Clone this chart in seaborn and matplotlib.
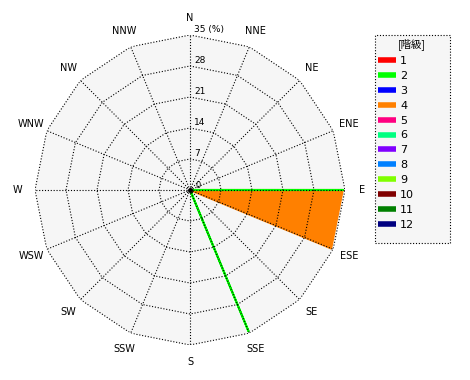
import numpy as np
import pandas as pd
import matplotlib
matplotlib.use("Agg")
import matplotlib.pyplot as plt
from matplotlib.lines import Line2D
from matplotlib.patches import Rectangle
import seaborn as sns

# ---- data ----
directions = ["N", "NNE", "NE", "ENE", "E", "ESE", "SE", "SSE",
              "S", "SSW", "SW", "WSW", "W", "WNW", "NW", "NNW"]
classes = ["1", "2", "3", "4", "5", "6", "7", "8", "9", "10", "11", "12"]
class_colors = ["#ff0000", "#00ff00", "#0000ff", "#ff8000", "#ff0080", "#00ff80",
                "#8000ff", "#0080ff", "#80ff00", "#800000", "#008000", "#000080"]
# frequency (%) per direction for each class (only classes 2 and 4 non-zero)
class2_values = [0, 0, 0, 0, 34.5, 0, 0, 34.5, 0, 0, 0, 0, 0, 0, 0, 0]
class4_values = [0, 0, 0, 0, 34.5, 34.5, 0, 0, 0, 0, 0, 0, 0, 0, 0, 0]
ring_ticks = [7, 14, 21, 28, 35]
ring_labels = ["7", "14", "21", "28", "35 (%)"]
legend_title = "[階級]"

series = {c: [0] * 16 for c in classes}
series["2"] = class2_values
series["4"] = class4_values

sns.set_theme(style="white")
plt.rcParams["font.family"] = ["DejaVu Sans", "Noto Sans CJK JP"]
plt.rcParams["text.color"] = "black"

W, H = 470, 380
fig = plt.figure(figsize=(W / 100, H / 100), dpi=100)
cx, cy, R = 190, 190, 155
ax = fig.add_axes([(cx - R) / W, (H - cy - R) / H, 2 * R / W, 2 * R / H], projection="polar")
ax.set_theta_zero_location("N")
ax.set_theta_direction(-1)
rmax = ring_ticks[-1]
ax.set_ylim(0, rmax)
ax.set_facecolor("none")
ax.spines["polar"].set_visible(False)
ax.grid(False)
ax.set_xticks([])
ax.set_yticks([])

theta = np.deg2rad(np.arange(16) * 22.5)
theta_closed = np.append(theta, theta[0])

# background polygon
ax.fill(theta_closed, [rmax] * 17, color="#f6f6f6", zorder=0, lw=0)

# series
rows = []
for c, col in zip(classes, class_colors):
    vals = np.array(series[c], dtype=float)
    if vals.max() > 0:
        ax.fill(theta_closed, np.append(vals, vals[0]), color=col, lw=0, zorder=1)
    for i, (t, v) in enumerate(zip(theta_closed, np.append(vals, vals[0]))):
        rows.append({"theta": t, "r": v, "cls": c, "order": i})
df = pd.DataFrame(rows)
nonzero = [c for c in classes if max(series[c]) > 0]
sub = df[df["cls"].isin(nonzero)]
sns.lineplot(data=sub, x="theta", y="r", hue="cls", hue_order=nonzero[::-1],
             units="cls", estimator=None, sort=False,
             palette=dict(zip(classes, class_colors)), ax=ax,
             legend=False, lw=1.5, zorder=2)
ax.set_xlabel("")
ax.set_ylabel("")
ax.set_ylim(0, rmax)

# grid: rings and spokes
dot = (0, (1, 1.6))
for r in ring_ticks:
    ax.plot(theta_closed, [r] * 17, color="black", lw=0.8, linestyle=dot, zorder=3)
for t in theta:
    ax.plot([t, t], [0, rmax], color="black", lw=0.8, linestyle=dot, zorder=3)
ax.plot([0], [0], marker="o", ms=2.5, color="black", zorder=4)

# direction labels
for t, d in zip(theta, directions):
    ax.text(t, rmax * 1.11, d, ha="center", va="center", fontsize=7, clip_on=False)

# ring labels
for r, lab in zip(ring_ticks, ring_labels):
    ax.annotate(lab, xy=(0, r), xytext=(3, 1), textcoords="offset points",
                ha="left", va="bottom", fontsize=6.5)
ax.annotate("0", xy=(0, 0), xytext=(4, 0), textcoords="offset points",
            ha="left", va="bottom", fontsize=6)

# legend box
box = Rectangle((375 / W, 1 - 243 / H), 75 / W, 208 / H, transform=fig.transFigure,
                facecolor="#f6f6f6", edgecolor="black", lw=0.8, linestyle=(0, (1, 1.6)),
                zorder=0)
fig.patches.append(box)

handles = [Line2D([0], [0], color=c, lw=4, solid_capstyle="butt") for c in class_colors]
leg = fig.legend(handles, classes, loc="upper left",
                 bbox_to_anchor=(378 / W, 1 - 56 / H), fontsize=8,
                 frameon=False, handlelength=1.6, handletextpad=0.4,
                 labelspacing=0.44, borderpad=0.0, borderaxespad=0.0)
for t in leg.get_texts():
    t.set_color("black")
fig.text(412 / W, 1 - 44 / H, legend_title, ha="center", va="center", fontsize=7.5,
         family=["Noto Sans CJK JP", "DejaVu Sans"])

fig.savefig("out.png", dpi=100, facecolor="white")
